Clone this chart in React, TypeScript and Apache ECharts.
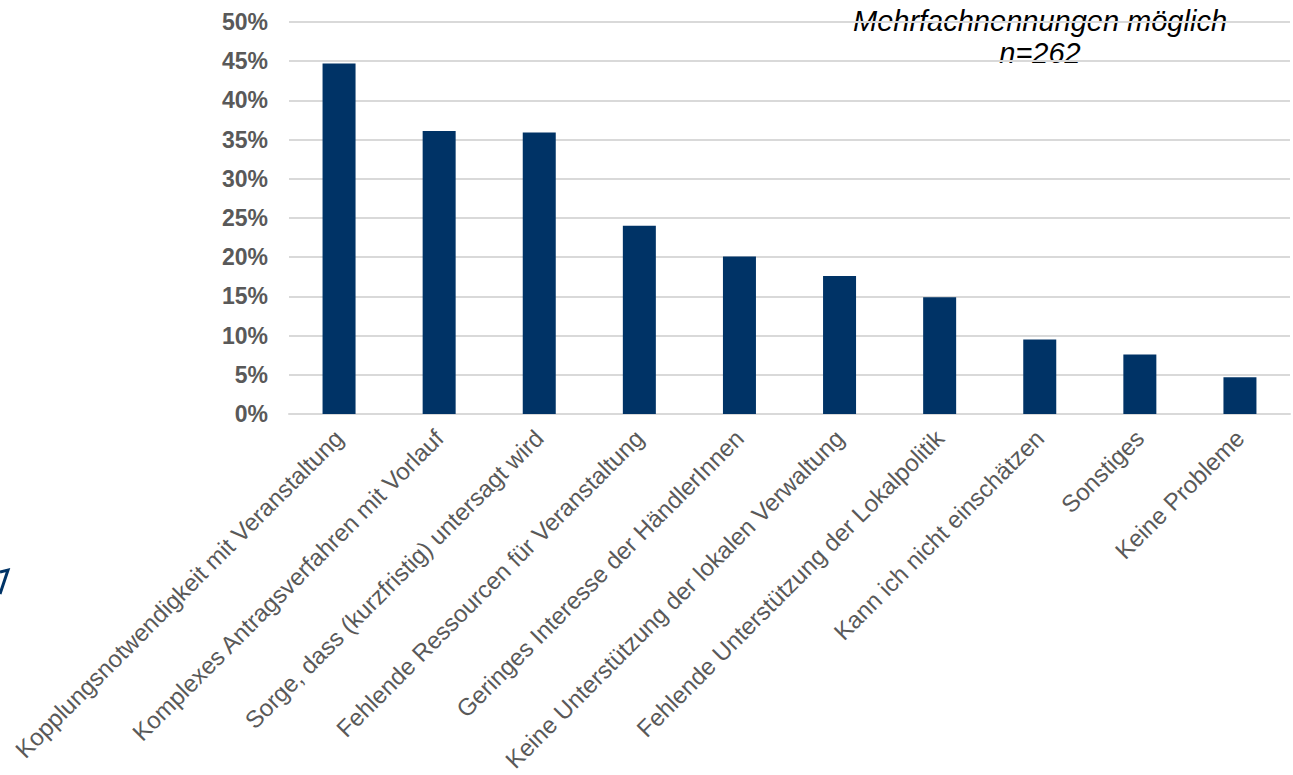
import React, { useEffect, useRef } from "react";
import * as echarts from "echarts";

const categories = [
  "Kopplungsnotwendigkeit mit Veranstaltung",
  "Komplexes Antragsverfahren mit Vorlauf",
  "Sorge, dass (kurzfristig) untersagt wird",
  "Fehlende Ressourcen für Veranstaltung",
  "Geringes Interesse der HändlerInnen",
  "Keine Unterstützung der lokalen Verwaltung",
  "Fehlende Unterstützung der Lokalpolitik",
  "Kann ich nicht einschätzen",
  "Sonstiges",
  "Keine Probleme",
];
const values = [44.7, 36.1, 35.9, 24.0, 20.1, 17.6, 14.9, 9.5, 7.6, 4.7];
const noteLines = ["Mehrfachnennungen möglich", "n=262"];

const FONT = "'Liberation Sans', Arial, sans-serif";

export default function App() {
  const ref = useRef<HTMLDivElement>(null);
  useEffect(() => {
    if (!ref.current) return;
    const chart = echarts.init(ref.current, null, { renderer: "svg" });
    chart.setOption({
      animation: false,
      grid: { left: 289, right: 3, top: 22, bottom: 361, containLabel: false },
      xAxis: {
        type: "category",
        data: categories,
        axisLine: { lineStyle: { color: "#d9d9d9", width: 2 } },
        axisTick: { show: false },
        axisLabel: {
          interval: 0,
          rotate: 45,
          margin: 20,
          fontSize: 24,
          color: "#595959",
          fontFamily: FONT,
        },
      },
      yAxis: {
        type: "value",
        min: 0,
        max: 50,
        interval: 5,
        axisLine: { show: false },
        axisTick: { show: false },
        splitLine: { lineStyle: { color: "#d9d9d9", width: 2 } },
        axisLabel: {
          formatter: "{value}%",
          fontSize: 23,
          fontWeight: "bold",
          color: "#595959",
          margin: 21,
          fontFamily: FONT,
        },
      },
      series: [
        {
          type: "bar",
          data: values,
          barWidth: 33,
          itemStyle: { color: "#003366" },
        },
      ],
      graphic: [
        {
          type: "text",
          x: 1040,
          y: 21,
          style: {
            text: noteLines[0],
            fontSize: 29,
            fontStyle: "italic",
            fontFamily: FONT,
            fill: "#000000",
            align: "center",
            verticalAlign: "middle",
          },
        },
        {
          type: "text",
          x: 1040,
          y: 53,
          style: {
            text: noteLines[1],
            fontSize: 29,
            fontStyle: "italic",
            fontFamily: FONT,
            fill: "#000000",
            align: "center",
            verticalAlign: "middle",
          },
        },
        {
          type: "polyline",
          shape: { points: [[0, 572], [8, 570], [0, 594]] },
          style: { stroke: "#003366", lineWidth: 3, fill: "none" },
        },
      ],
    });
    return () => chart.dispose();
  }, []);
  return (
    <div
      ref={ref}
      style={{ position: "fixed", left: 0, top: 0, width: 1293, height: 775, background: "#fff" }}
    />
  );
}
